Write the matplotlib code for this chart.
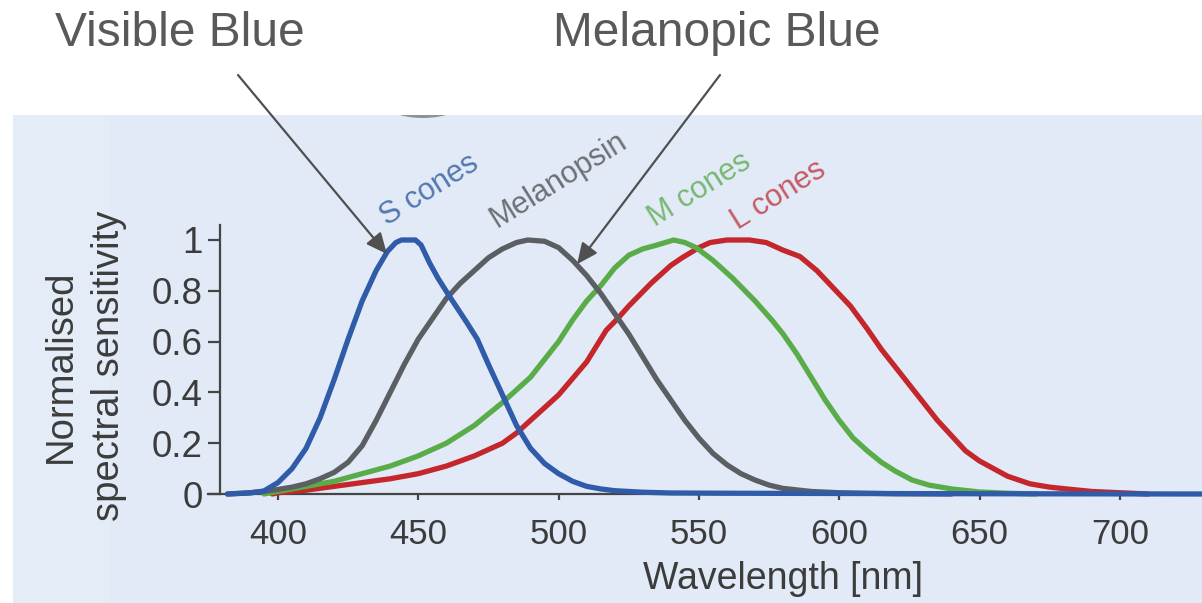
import matplotlib
matplotlib.use("Agg")
import matplotlib.pyplot as plt
from matplotlib.patches import Rectangle, Ellipse

plt.rcParams['font.family'] = ['Liberation Sans', 'DejaVu Sans']

# Normalised spectral sensitivity curves (wavelength in nm)
s_nm = [382, 390, 395, 400, 405, 410, 415, 420, 425, 430, 435, 439, 442, 444,
        449, 451, 454, 457, 461, 464, 467, 471, 475, 480, 485, 490, 495, 500,
        505, 510, 515, 520, 530, 540, 560, 600, 650, 729]
s_val = [0.0, 0.004, 0.012, 0.045, 0.10, 0.18, 0.30, 0.45, 0.61, 0.76, 0.88, 0.955,
         0.99, 1.0, 1.0, 0.98, 0.91, 0.85, 0.78, 0.73, 0.68, 0.61, 0.51, 0.39,
         0.27, 0.18, 0.12, 0.08, 0.05, 0.03, 0.02, 0.013, 0.007, 0.004, 0.003,
         0.002, 0.001, 0.0]

mel_nm = [382, 390, 395, 400, 405, 410, 415, 420, 425, 430, 435, 440, 445, 450,
          455, 460, 465, 470, 475, 480, 485, 489, 495, 500, 505, 510, 515, 520,
          525, 530, 535, 540, 545, 550, 555, 560, 565, 570, 575, 580, 590, 600,
          620, 640]
mel_val = [0.0, 0.005, 0.01, 0.018, 0.027, 0.04, 0.06, 0.085, 0.125, 0.19, 0.29,
           0.40, 0.51, 0.61, 0.69, 0.77, 0.83, 0.88, 0.93, 0.965, 0.99, 1.0, 0.995,
           0.97, 0.92, 0.86, 0.79, 0.71, 0.63, 0.54, 0.45, 0.37, 0.29, 0.22, 0.16,
           0.115, 0.08, 0.055, 0.035, 0.022, 0.01, 0.005, 0.001, 0.0]

m_nm = [395, 400, 410, 420, 430, 440, 450, 460, 470, 480, 490, 500, 505, 510,
        515, 520, 525, 530, 535, 541, 545, 549, 555, 562, 570, 576, 580, 585,
        590, 595, 600, 605, 610, 615, 620, 626, 632, 640, 650, 660, 670]
m_val = [0.0, 0.01, 0.03, 0.05, 0.08, 0.11, 0.15, 0.20, 0.27, 0.36, 0.46, 0.60,
         0.685, 0.76, 0.82, 0.89, 0.94, 0.965, 0.98, 1.0, 0.99, 0.97, 0.92, 0.85,
         0.76, 0.685, 0.63, 0.55, 0.46, 0.37, 0.29, 0.22, 0.17, 0.125, 0.09,
         0.055, 0.035, 0.02, 0.008, 0.003, 0.0]

l_nm = [398, 400, 410, 420, 430, 440, 450, 460, 470, 480, 485, 490, 500, 510,
        517, 521, 525, 533, 540, 544, 550, 554, 560, 568, 574, 580, 586, 592,
        598, 604, 610, 615, 620, 625, 630, 635, 640, 645, 650, 656, 660, 668,
        675, 681, 690, 700, 710]
l_val = [0.0, 0.005, 0.015, 0.03, 0.045, 0.06, 0.08, 0.11, 0.15, 0.20, 0.24,
         0.29, 0.39, 0.52, 0.645, 0.69, 0.74, 0.83, 0.90, 0.93, 0.97, 0.99, 1.0,
         1.0, 0.99, 0.96, 0.935, 0.88, 0.81, 0.74, 0.65, 0.57, 0.50, 0.43, 0.36,
         0.29, 0.23, 0.17, 0.13, 0.094, 0.07, 0.04, 0.027, 0.02, 0.01, 0.005, 0.0]

x_ticks = [400, 450, 500, 550, 600, 650, 700]
y_ticks = [0, 0.2, 0.4, 0.6, 0.8, 1]
y_tick_labels = ['0', '0.2', '0.4', '0.6', '0.8', '1']

curve_labels = ['S cones', 'Melanopsin', 'M cones', 'L cones']
label_pos = [(453.8, 1.197), (500.1, 1.236), (550.4, 1.197), (578.5, 1.177)]

blue = '#2f5ba8'
grey = '#5b5e62'
green = '#5aac48'
red = '#c4262c'
label_colors = ['#5578b0', '#6d7175', '#78b873', '#c65a63']
axis_col = '#454545'
text_col = '#3c3c3c'
panel_col = '#e1eaf6'

W, H = 1202, 603
fig = plt.figure(figsize=(W / 100, H / 100), dpi=100)
fig.patch.set_facecolor('white')

# light blue backdrop of the chart area
panel = Rectangle((13 / W, 0), 1 - 13 / W, (H - 115) / H, transform=fig.transFigure,
                  facecolor=panel_col, edgecolor='none', zorder=0)
fig.add_artist(panel)
strip = Rectangle((13 / W, 0), 97 / W, (H - 115) / H, transform=fig.transFigure,
                  facecolor='#e4ecf7', edgecolor='none', zorder=0.1)
fig.add_artist(strip)
lens = Ellipse((423 / W, 1 - 100 / H), 84 / W, 36 / H, transform=fig.transFigure,
               facecolor='#8d9298', edgecolor='none', zorder=0.5)
fig.add_artist(lens)
cover = Rectangle((0, 1 - 115 / H), 1, 115 / H, transform=fig.transFigure,
                  facecolor='white', edgecolor='none', zorder=0.6)
fig.add_artist(cover)

# axes: 400 nm at x=278 px, 2.806 px/nm; y=0 at 494 px, 254 px per unit
px_nm = 2.806
x0 = 400 - (278 - 208) / px_nm
x1 = 400 + (W - 278) / px_nm
ax = fig.add_axes([208 / W, (H - 500) / H, (W - 208) / W, 275 / H])
ax.set_zorder(1)
ax.set_xlim(x0, x1)
ax.set_ylim(-6 / 254, 269 / 254)
ax.patch.set_alpha(0)

for nm, val, col in [(l_nm, l_val, red), (m_nm, m_val, green),
                     (mel_nm, mel_val, grey), (s_nm, s_val, blue)]:
    ax.plot(nm, val, color=col, lw=3.8, solid_capstyle='round',
            solid_joinstyle='round', clip_on=False, zorder=3)

for side in ['top', 'right']:
    ax.spines[side].set_visible(False)
ax.spines['left'].set_position(('data', 400 - (278 - 220) / px_nm))
ax.spines['left'].set_bounds(0, 1.06)
ax.spines['bottom'].set_position(('data', 0))
for side in ['left', 'bottom']:
    ax.spines[side].set_color(axis_col)
    ax.spines[side].set_linewidth(1.6)
    ax.spines[side].set_zorder(2)

ax.set_xticks(x_ticks)
ax.set_xticklabels([str(t) for t in x_ticks])
ax.set_yticks(y_ticks)
ax.set_yticklabels(y_tick_labels)
ax.tick_params(axis='x', direction='out', length=4.5, width=1.6, color=axis_col,
               pad=13, labelsize=25, labelcolor=text_col)
ax.tick_params(axis='y', direction='out', length=8.5, width=1.6, color=axis_col,
               pad=4, labelsize=26.5, labelcolor=text_col)

ax.set_xlabel('Wavelength [nm]', fontsize=27, color=text_col)
ax.xaxis.set_label_coords((783 - 208) / (W - 208), (500 - 561) / 275)
ax.set_ylabel('Normalised\nspectral sensitivity', fontsize=27.5, color=text_col,
              linespacing=1.45)
ax.yaxis.set_label_coords((127 - 208) / (W - 208), (500 - 366) / 275)

for txt, (lx, ly), col in zip(curve_labels, label_pos, label_colors):
    ax.text(lx, ly, txt, color=col, fontsize=22, rotation=32, ha='center',
            va='center', rotation_mode='anchor', clip_on=False)

# headings with pointer arrows
title_col = '#595959'
fig.text(180 / W, 1 - 46 / H, 'Visible Blue', fontsize=34.5, color=title_col,
         ha='center', va='baseline')
fig.text(717 / W, 1 - 46 / H, 'Melanopic Blue', fontsize=34.5, color=title_col,
         ha='center', va='baseline')

arrow = dict(arrowstyle='-|>,head_length=0.7,head_width=0.32', mutation_scale=18,
             color='#505050', lw=1.6, shrinkA=0, shrinkB=0)
ax.annotate('', xy=(438.8, 0.945), xycoords='data',
            xytext=(238, H - 75), textcoords='figure pixels', arrowprops=arrow,
            annotation_clip=False)
ax.annotate('', xy=(506.6, 0.905), xycoords='data',
            xytext=(720, H - 75), textcoords='figure pixels', arrowprops=arrow,
            annotation_clip=False)

fig.savefig('out.png', dpi=100, facecolor='white')
